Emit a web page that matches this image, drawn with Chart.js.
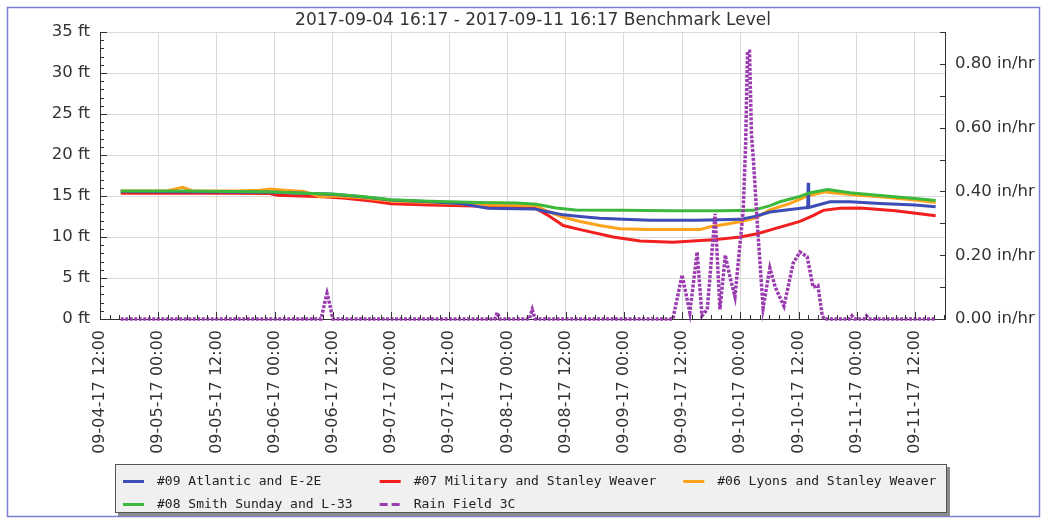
<!DOCTYPE html>
<html>
<head>
<meta charset="utf-8">
<title>Benchmark Level</title>
<script src="https://cdn.jsdelivr.net/npm/chart.js@4.4.1/dist/chart.umd.min.js"></script>
<style>
  html, body { margin: 0; padding: 0; background: #ffffff; }
  #wrap { position: relative; width: 1046px; height: 523px; }
  canvas { display: block; }
</style>
</head>
<body>
<div id="wrap"><canvas id="chart" width="1046" height="523"></canvas></div>
<script>
// Time is expressed in hours since 2017-09-04 00:00.
const chartTitle = '2017-09-04 16:17 - 2017-09-11 16:17 Benchmark Level';
const tickHours = [12, 24, 36, 48, 60, 72, 84, 96, 108, 120, 132, 144, 156, 168, 180];
const levelTicks = [0, 5, 10, 15, 20, 25, 30, 35];
const rainTicks = [0, 0.2, 0.4, 0.6, 0.8];

const seriesLabels = [
  '#09 Atlantic and E-2E',
  '#07 Military and Stanley Weaver',
  '#06 Lyons and Stanley Weaver',
  '#08 Smith Sunday and L-33',
  'Rain Field 3C'
];

// #09 Atlantic and E-2E (ft)
const atlanticHours = [16.28, 48, 60, 66, 72, 80, 86, 92, 98, 101.7, 104, 107.5, 111, 115, 120, 125.4, 135, 144, 147, 150.1, 154.3, 157.9, 158.0, 158.1, 162.5, 166.6, 172.8, 180, 184.28];
const atlanticFt    = [15.55, 15.45, 15.2, 14.9, 14.5, 14.3, 14.1, 13.5, 13.45, 13.4, 13.1, 12.7, 12.5, 12.3, 12.15, 12.05, 12.05, 12.15, 12.5, 13.05, 13.35, 13.6, 16.6, 13.6, 14.3, 14.3, 14.1, 13.9, 13.7];

// #07 Military and Stanley Weaver (ft)
const militaryHours = [16.28, 40, 47, 48.5, 58, 62, 68, 72, 80, 92, 101.7, 104.2, 107.5, 111, 117.8, 123.3, 130.1, 138.4, 144, 147.5, 152.2, 156.3, 159, 161.1, 164.6, 168.7, 176, 184.28];
const militaryFt    = [15.35, 15.35, 15.3, 15.1, 14.9, 14.75, 14.4, 14.05, 13.9, 13.75, 13.55, 12.7, 11.4, 10.9, 10.0, 9.5, 9.35, 9.65, 10.0, 10.4, 11.2, 11.9, 12.6, 13.25, 13.5, 13.55, 13.2, 12.6];

// #06 Lyons and Stanley Weaver (ft)
const lyonsHours = [16.28, 26, 29, 31, 40, 45, 47, 50, 54, 57.4, 60, 66, 72, 80, 92, 101.7, 104, 107.5, 111, 115, 119.2, 125, 135.7, 137.8, 144, 147.1, 150.1, 154.3, 157.8, 161.5, 168.3, 172.8, 180, 184.28];
const lyonsFt    = [15.6, 15.65, 16.05, 15.65, 15.6, 15.7, 15.85, 15.7, 15.55, 14.9, 15.0, 14.8, 14.4, 14.2, 13.9, 13.85, 13.2, 12.4, 11.9, 11.4, 11.0, 10.9, 10.9, 11.25, 11.85, 12.3, 13.3, 14.1, 15.0, 15.5, 15.1, 14.9, 14.5, 14.2];

// #08 Smith Sunday and L-33 (ft)
const smithHours = [16.28, 28, 40, 48, 54, 60, 66, 72, 80, 90, 98, 102, 106, 110, 120, 130, 140, 146.6, 150, 152.2, 156, 158.4, 162, 166.6, 172.8, 180, 184.28];
const smithFt    = [15.6, 15.6, 15.55, 15.5, 15.35, 15.25, 14.95, 14.55, 14.35, 14.2, 14.15, 14.0, 13.55, 13.3, 13.25, 13.2, 13.2, 13.25, 13.8, 14.3, 14.9, 15.4, 15.8, 15.4, 15.05, 14.7, 14.45];

// Rain Field 3C (in/hr)
const rainHours = [16.28, 57.6, 58.3, 58.8, 59.3, 60.0, 93.4, 93.9, 94.4, 100.5, 101.1, 101.7, 130.1, 132.0, 133.6, 135.1, 136.1, 137.2, 138.8, 139.8, 140.9, 141.9, 142.9, 144.6, 145.1, 145.5, 145.9, 146.3, 146.7, 147.5, 148.7, 150.1, 151.2, 153.0, 154.9, 156.3, 157.8, 159.0, 160.0, 160.9, 161.3, 166.5, 167.0, 167.5, 169.5, 170.0, 170.5, 184.28];
const rainInHr  = [0, 0, 0.05, 0.08, 0.05, 0, 0, 0.02, 0, 0, 0.03, 0, 0, 0.138, 0.02, 0.21, 0.01, 0.03, 0.33, 0.03, 0.2, 0.13, 0.07, 0.34, 0.55, 0.84, 0.84, 0.58, 0.5, 0.3, 0.035, 0.16, 0.1, 0.04, 0.175, 0.21, 0.195, 0.1, 0.105, 0.01, 0, 0, 0.01, 0, 0, 0.01, 0, 0];

const seriesColors = ['#3c4db5', '#f21f1f', '#ffa21c', '#3cb83c', '#9a3cb0'];

function pts(hours, vals) {
  return hours.map((h, i) => ({ x: h, y: vals[i] }));
}
function pad2(n) { return String(n).padStart(2, '0'); }
function hourLabel(h) {
  const day = 4 + Math.floor(h / 24);
  const hh = Math.round(h % 24);
  return '09-' + pad2(day) + '-17 ' + pad2(hh) + ':00';
}

const lineBase = { pointRadius: 0, borderWidth: 3, tension: 0, fill: false, yAxisID: 'y' };

// inward tick marks on all three axes
const innerTicks = {
  id: 'innerTicks',
  afterDraw(chart) {
    const { ctx, chartArea: a } = chart;
    const { x, y, y1 } = chart.scales;
    ctx.save();
    ctx.strokeStyle = '#333333';
    ctx.lineWidth = 1;
    ctx.beginPath();
    for (let v = 0; v <= 35; v += 1) {
      const py = Math.round(y.getPixelForValue(v)) + 0.5;
      const len = v % 5 === 0 ? 7 : 4;
      ctx.moveTo(a.left, py); ctx.lineTo(a.left + len, py);
    }
    for (let i = 0; i <= 9; i++) {
      const py = Math.round(y1.getPixelForValue(i / 10)) + 0.5;
      ctx.moveTo(a.right, py); ctx.lineTo(a.right - 5, py);
    }
    for (let h = 12; h <= 186; h += 2) {
      const px = Math.round(x.getPixelForValue(h)) + 0.5;
      const len = h % 12 === 0 ? 7 : 4;
      ctx.moveTo(px, a.bottom); ctx.lineTo(px, a.bottom - len);
    }
    ctx.stroke();
    ctx.restore();
  }
};

// title, outer frame and the boxed legend
const frameAndLegend = {
  id: 'frameAndLegend',
  afterDraw(chart) {
    const ctx = chart.ctx;
    ctx.save();
    ctx.strokeStyle = '#7d7dd6';
    ctx.lineWidth = 1.5;
    ctx.strokeRect(7.5, 7.5, 1032, 509);

    ctx.fillStyle = '#333333';
    ctx.font = '17px "DejaVu Sans"';
    ctx.textAlign = 'center';
    ctx.textBaseline = 'middle';
    ctx.fillText(chartTitle, 533, 20.5);

    const L = 115, T = 464, R = 947, B = 513;
    ctx.fillStyle = '#8c8c8c';
    ctx.fillRect(L + 3, T + 3, R - L, B - T);
    ctx.fillStyle = '#f0f0f0';
    ctx.fillRect(L, T, R - L, B - T);
    ctx.strokeStyle = '#555555';
    ctx.lineWidth = 1;
    ctx.strokeRect(L + 0.5, T + 0.5, R - L - 1, B - T - 1);

    ctx.font = '13px "DejaVu Sans Mono"';
    ctx.textAlign = 'left';
    const ds = chart.data.datasets;
    const cols = 3, sym = 21, gap = 13, colGap = 27;
    const widths = [0, 0, 0];
    ds.forEach((d, i) => {
      const c = i % cols;
      widths[c] = Math.max(widths[c], sym + gap + ctx.measureText(d.label).width);
    });
    const xs = [123];
    for (let c = 1; c < cols; c++) xs[c] = xs[c - 1] + widths[c - 1] + colGap;
    const rowsY = [481, 504];
    ds.forEach((d, i) => {
      const px = xs[i % cols], py = rowsY[Math.floor(i / cols)];
      ctx.strokeStyle = d.borderColor;
      ctx.lineWidth = 3;
      ctx.setLineDash(d.borderDash && d.borderDash.length ? [8, 4] : []);
      ctx.beginPath();
      ctx.moveTo(px, py + 0.5); ctx.lineTo(px + sym, py + 0.5);
      ctx.stroke();
      ctx.setLineDash([]);
      ctx.fillStyle = '#222222';
      ctx.fillText(d.label, px + sym + gap, py + 1);
    });
    ctx.restore();
  }
};

const tickFont = { family: 'DejaVu Sans', size: 16.5 };

new Chart(document.getElementById('chart'), {
  type: 'line',
  data: {
    datasets: [
      Object.assign({}, lineBase, { label: seriesLabels[0], data: pts(atlanticHours, atlanticFt), borderColor: seriesColors[0], order: 2 }),
      Object.assign({}, lineBase, { label: seriesLabels[1], data: pts(militaryHours, militaryFt), borderColor: seriesColors[1], order: 4 }),
      Object.assign({}, lineBase, { label: seriesLabels[2], data: pts(lyonsHours, lyonsFt), borderColor: seriesColors[2], order: 3 }),
      Object.assign({}, lineBase, { label: seriesLabels[3], data: pts(smithHours, smithFt), borderColor: seriesColors[3], order: 1 }),
      Object.assign({}, lineBase, { label: seriesLabels[4], data: pts(rainHours, rainInHr), borderColor: seriesColors[4], borderDash: [3, 1.5], borderWidth: 3.5, yAxisID: 'y1', order: 0, clip: 6 })
    ]
  },
  options: {
    responsive: false,
    animation: false,
    devicePixelRatio: 1,
    layout: { padding: { top: 32, left: 0, right: 0, bottom: 0 } },
    plugins: { legend: { display: false }, title: { display: false }, tooltip: { enabled: false } },
    scales: {
      x: {
        type: 'linear',
        position: 'bottom',
        min: 12,
        max: 186.2,
        afterBuildTicks: s => { s.ticks = tickHours.map(v => ({ value: v })); },
        afterFit: s => { s.height = 204; },
        grid: { color: '#dadada', lineWidth: 1, drawTicks: false },
        border: { color: '#333333', width: 1 },
        ticks: {
          autoSkip: false, minRotation: 90, maxRotation: 90, padding: 11,
          color: '#333333', font: { family: 'DejaVu Sans', size: 16 },
          callback: v => hourLabel(v)
        }
      },
      y: {
        type: 'linear',
        position: 'left',
        min: 0,
        max: 35,
        afterBuildTicks: s => { s.ticks = levelTicks.map(v => ({ value: v })); },
        afterFit: s => { s.width = 100; },
        grid: { color: '#dadada', lineWidth: 1, drawTicks: false },
        border: { color: '#333333', width: 1 },
        ticks: { padding: 10, color: '#333333', font: tickFont, callback: v => v + ' ft' }
      },
      y1: {
        type: 'linear',
        position: 'right',
        min: 0,
        max: 0.9,
        afterBuildTicks: s => { s.ticks = rainTicks.map(v => ({ value: v })); },
        afterFit: s => { s.width = 101; },
        grid: { drawOnChartArea: false, drawTicks: false },
        border: { color: '#333333', width: 1 },
        ticks: { padding: 10, color: '#333333', font: tickFont, callback: v => v.toFixed(2) + ' in/hr' }
      }
    }
  },
  plugins: [innerTicks, frameAndLegend]
});
</script>
</body>
</html>
